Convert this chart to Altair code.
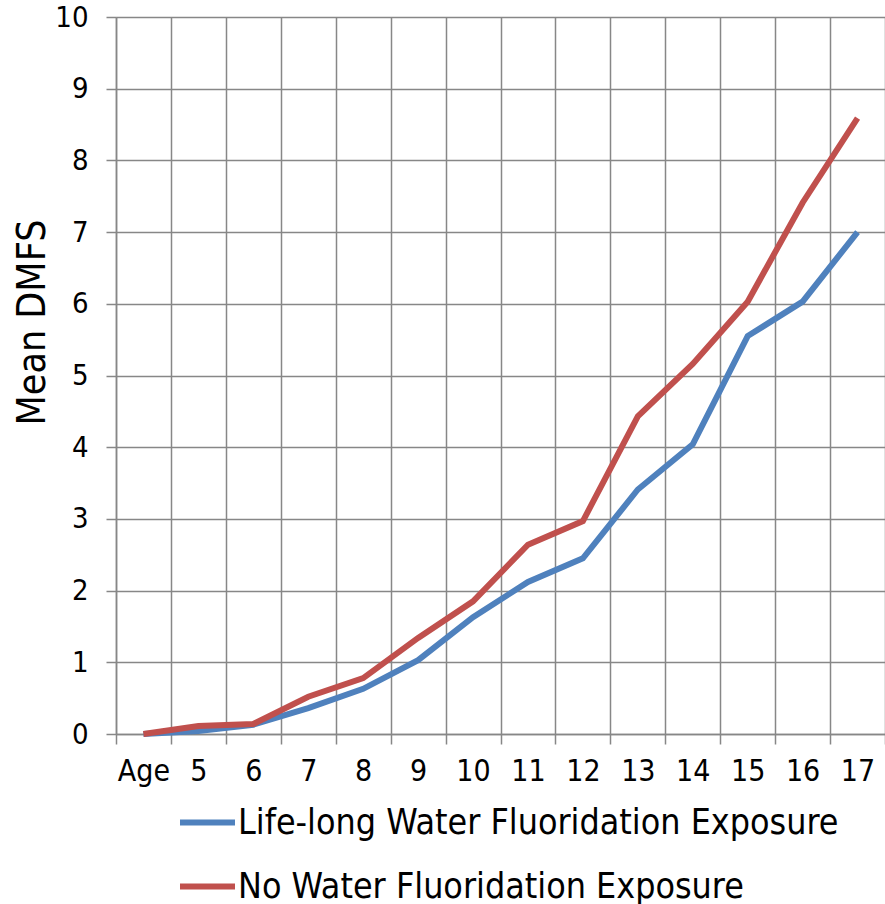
import altair as alt
import pandas as pd

ages = ["Age", "5", "6", "7", "8", "9", "10", "11", "12", "13", "14", "15", "16", "17"]
life_long = [0, 0.04, 0.13, 0.36, 0.63, 1.03, 1.63, 2.12, 2.45, 3.41, 4.04, 5.55, 6.03, 7.0]
no_fluor = [0, 0.11, 0.14, 0.52, 0.78, 1.34, 1.85, 2.64, 2.97, 4.43, 5.16, 6.03, 7.41, 8.59]
series = ["Life-long Water Fluoridation Exposure", "No Water Fluoridation Exposure"]
colors = ["#4F81BD", "#C0504D"]

rows = []
for name, vals in zip(series, [life_long, no_fluor]):
    for a, v in zip(ages, vals):
        rows.append({"Age": a, "Mean DMFS": v, "Series": name})
df = pd.DataFrame(rows)

FONT = "Liberation Sans Narrow, DejaVu Sans Condensed, Lato, sans-serif"
GRID = "#878787"

chart = (
    alt.Chart(df)
    .mark_line(strokeWidth=6)
    .encode(
        x=alt.X(
            "Age:N",
            sort=ages,
            bandPosition=0.5,
            scale=alt.Scale(type="band", paddingInner=0, paddingOuter=0),
            axis=alt.Axis(
                title=None,
                tickBand="extent",
                grid=True,
                gridColor=GRID,
                gridWidth=1.5,
                tickColor=GRID,
                tickWidth=1.5,
                tickSize=10,
                domainColor=GRID,
                domainWidth=1.5,
                labelAngle=0,
                labelFont=FONT,
                labelFontSize=30,
                labelColor="#000000",
                labelPadding=12,
            ),
        ),
        y=alt.Y(
            "Mean DMFS:Q",
            scale=alt.Scale(domain=[0, 10], nice=False),
            axis=alt.Axis(
                values=list(range(0, 11)),
                grid=True,
                gridColor=GRID,
                gridWidth=1.5,
                tickColor=GRID,
                tickWidth=1.5,
                tickSize=10,
                domainColor=GRID,
                domainWidth=1.5,
                labelFont=FONT,
                labelFontSize=29,
                labelColor="#000000",
                labelPadding=18,
                title="Mean DMFS",
                titleFont=FONT,
                titleFontSize=39,
                titleFontWeight="normal",
                titleColor="#000000",
                titleX=-84,
                titleY=305,
                titleAlign="center",
                titleBaseline="middle",
                titleAngle=270,
            ),
        ),
        color=alt.Color(
            "Series:N",
            scale=alt.Scale(domain=series, range=colors),
            legend=alt.Legend(
                title=None,
                orient="none",
                legendX=61,
                legendY=775,
                direction="vertical",
                symbolType="stroke",
                symbolSize=3025,
                symbolStrokeWidth=6,
                labelFont=FONT,
                labelFontSize=35.5,
                labelColor="#000000",
                labelOffset=0,
                rowPadding=15,
                labelLimit=1000,
            ),
        ),
    )
    .properties(
        width=769,
        height=717,
        autosize=alt.AutoSizeParams(type="none"),
        padding={"left": 116, "top": 17, "right": 0, "bottom": 170},
    )
    .configure_view(strokeWidth=0)
    .configure(background="#ffffff")
)

chart.save("out.html", embed_options={"renderer": "svg", "actions": False})
